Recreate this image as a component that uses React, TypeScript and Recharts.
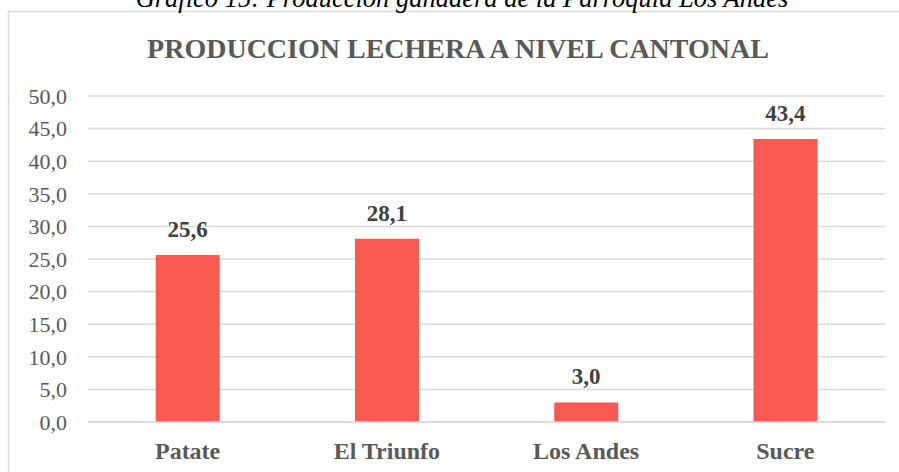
import React from "react";
import { BarChart, Bar, XAxis, YAxis, CartesianGrid, LabelList } from "recharts";

const categories = ["Patate", "El Triunfo", "Los Andes", "Sucre"];
const values = [25.6, 28.1, 3.0, 43.4];
const yTicks = [0, 5, 10, 15, 20, 25, 30, 35, 40, 45, 50];
const captionText = "Gráfico 15: Producción ganadera de la Parroquia Los Andes";
const titleText = "PRODUCCION LECHERA A NIVEL CANTONAL";

const data = categories.map((c, i) => ({ name: c, value: values[i] }));

const fmt = (v: number) => v.toFixed(1).replace(".", ",");
const FONT = "'Liberation Serif', 'Times New Roman', serif";

export default function App() {
  return (
    <div style={{ position: "absolute", left: 0, top: 0, width: 899, height: 472, overflow: "hidden", background: "#fff" }}>
      <svg width={899} height={472} style={{ position: "absolute", left: 0, top: 0 }}>
        <rect x={8.5} y={11.5} width={900} height={470} fill="#fff" stroke="#d9d9d9" strokeWidth={1.5} />
        <text x={462} y={7} textAnchor="middle" fontFamily={FONT} fontStyle="italic" fontSize={26.5} fill="#000">
          {captionText}
        </text>
        <text x={458} y={58} textAnchor="middle" fontFamily={FONT} fontWeight="bold" fontSize={28} fill="#595959">
          {titleText}
        </text>
      </svg>
      <div style={{ position: "absolute", left: 0, top: 0 }}>
        <BarChart
          width={899}
          height={472}
          data={data}
          margin={{ top: 96, right: 14, left: 0, bottom: 0 }}
          barCategoryGap="34%"
        >
          <CartesianGrid vertical={false} stroke="#d9d9d9" strokeWidth={1.5} />
          <XAxis
            dataKey="name"
            height={50}
            tickLine={false}
            tickSize={0}
            tickMargin={20}
            axisLine={{ stroke: "#d9d9d9", strokeWidth: 1.5 }}
            tick={{ fill: "#595959", fontSize: 24, fontWeight: "bold", fontFamily: FONT }}
          />
          <YAxis
            width={88}
            domain={[0, 50]}
            ticks={yTicks}
            interval={0}
            tickFormatter={fmt}
            axisLine={false}
            tickLine={false}
            tickSize={0}
            tickMargin={21}
            tick={{ fill: "#595959", fontSize: 22, fontFamily: FONT }}
          />
          <Bar dataKey="value" fill="#F85A53" isAnimationActive={false}>
            <LabelList
              dataKey="value"
              position="top"
              offset={18}
              formatter={(v: any) => fmt(Number(v))}
              style={{ fill: "#404040", fontSize: 23, fontWeight: "bold", fontFamily: FONT }}
            />
          </Bar>
        </BarChart>
      </div>
    </div>
  );
}
